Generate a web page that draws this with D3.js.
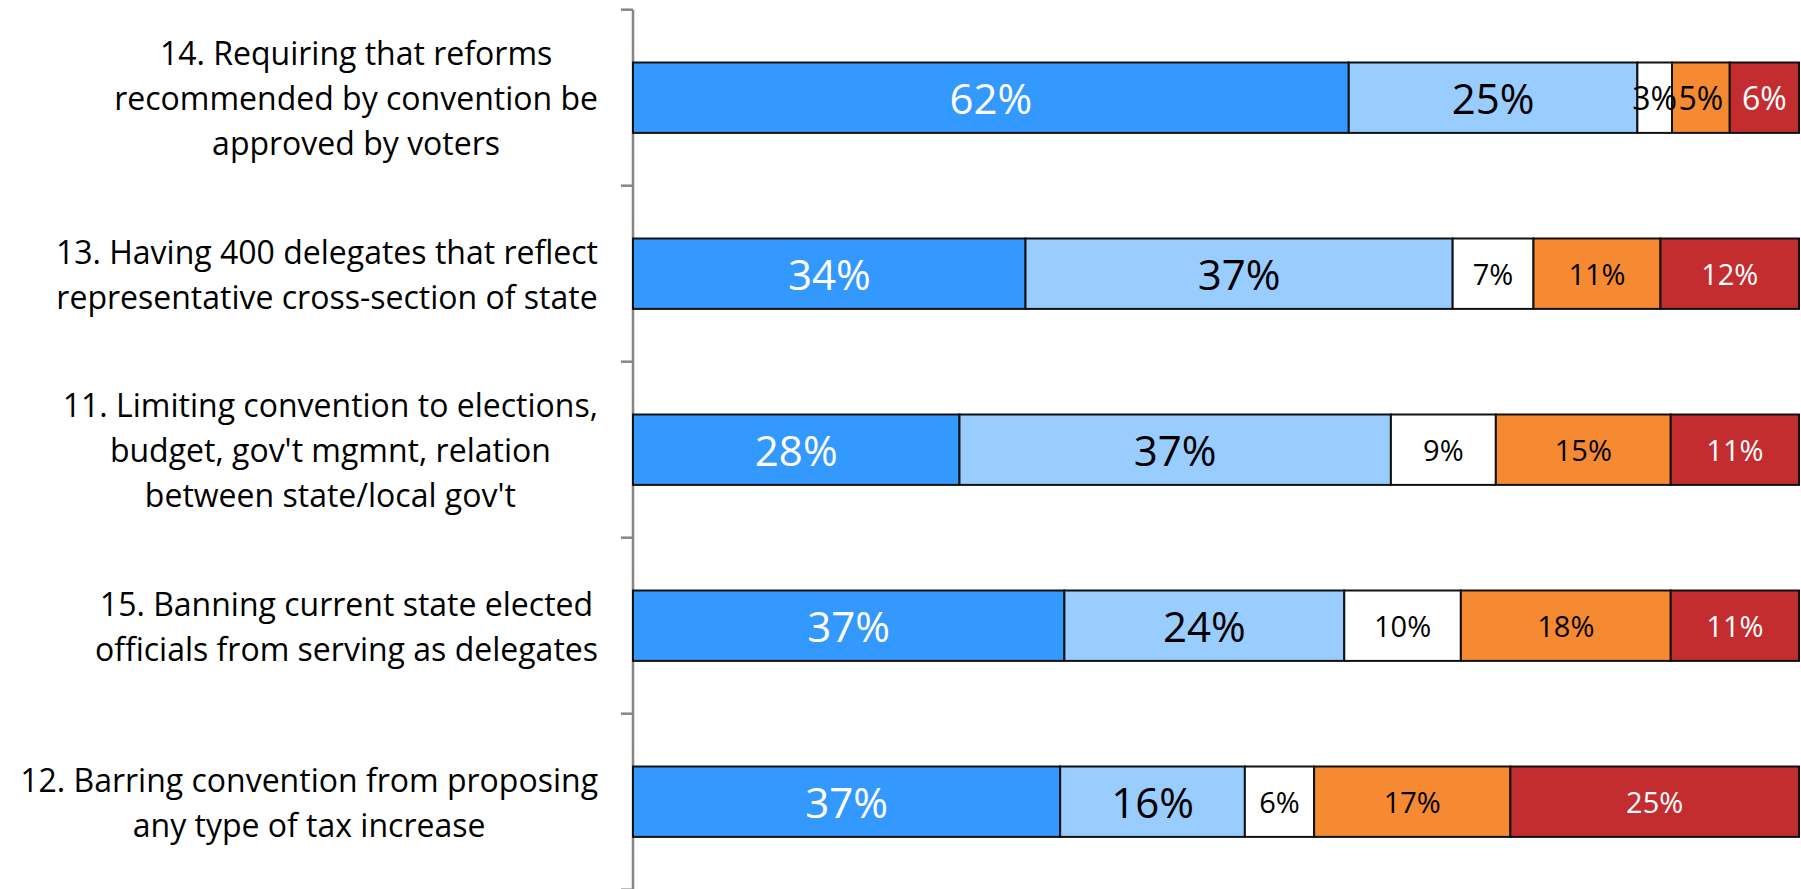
<!DOCTYPE html>
<html><head><meta charset="utf-8">
<script src="https://cdn.jsdelivr.net/npm/d3@7"></script>
<style>body{margin:0;background:#fff;}svg{display:block;}</style>
</head><body>
<svg id="chart" width="1801" height="889"></svg>
<script>
const categories = [
  "14. Requiring that reforms\nrecommended by convention be\napproved by voters",
  "13. Having 400 delegates that reflect\nrepresentative cross-section of state",
  "11. Limiting convention to elections,\nbudget, gov't mgmnt, relation\nbetween state/local gov't",
  "15. Banning current state elected\nofficials from serving as delegates",
  "12. Barring convention from proposing\nany type of tax increase"
];
const seriesKeys = ["s1", "s2", "s3", "s4", "s5"];
const s1 = [62, 34, 28, 37, 37];
const s2 = [25, 37, 37, 24, 16];
const s3 = [3, 7, 9, 10, 6];
const s4 = [5, 11, 15, 18, 17];
const s5 = [6, 12, 11, 11, 25];
const colors = ["#3399FF", "#99CCFF", "#FFFFFF", "#F58A33", "#C42D2F"];
const labelColors = ["#fff", "#000", "#000", "#000", "#fff"];

const rows = categories.map((c, i) => ({cat: c, s1: s1[i], s2: s2[i], s3: s3[i], s4: s4[i], s5: s5[i]}));
const stacked = d3.stack().keys(seriesKeys).offset(d3.stackOffsetExpand)(rows);

const svg = d3.select("#chart");
const x = d3.scaleLinear().domain([0, 1]).range([633, 1799]);
const y = d3.scaleBand().domain(categories).range([9.7, 889.7]).paddingInner(0.6).paddingOuter(0.3);

// axis
const axis = d3.axisLeft(y).tickSize(0).tickFormat("");
const ag = svg.append("g").attr("transform", "translate(633,0)").call(axis);
ag.select(".domain").attr("stroke", "#868686").attr("stroke-width", 2.5).attr("d", "M0," + y.range()[0] + "V" + y.range()[1]);
// tick marks between categories
const step = y.step();
const bounds = d3.range(categories.length + 1).map(i => y.range()[0] + i * step);
svg.append("g").selectAll("line").data(bounds).join("line")
  .attr("x1", 621).attr("x2", 633).attr("y1", d => d).attr("y2", d => d)
  .attr("stroke", "#868686").attr("stroke-width", 2.5);

// bars
const groups = svg.append("g").selectAll("g").data(stacked).join("g")
  .attr("fill", (d, i) => colors[i]);
groups.selectAll("rect").data(d => d.map(p => ({p, key: d.key}))).join("rect")
  .attr("x", d => x(d.p[0]))
  .attr("width", d => x(d.p[1]) - x(d.p[0]))
  .attr("y", d => y(d.p.data.cat))
  .attr("height", y.bandwidth())
  .attr("stroke", "#111").attr("stroke-width", 2);

// value labels
const rawVals = [s1, s2, s3, s4, s5];
function labelSize(si, ri) {
  if (si < 2) return 42;
  if (ri === 0) return 32;
  return 29;
}
stacked.forEach((layer, si) => {
  svg.append("g").selectAll("text").data(layer).join("text")
    .attr("x", d => (x(d[0]) + x(d[1])) / 2)
    .attr("y", d => y(d.data.cat) + y.bandwidth() / 2)
    .attr("text-anchor", "middle")
    .attr("dominant-baseline", "central")
    .attr("font-family", "Open Sans, sans-serif")
    .attr("font-size", (d, ri) => labelSize(si, ri))
    .attr("fill", labelColors[si])
    .text((d, ri) => rawVals[si][ri] + "%");
});

// category labels: block right-aligned at 598, lines centered within block
const lineH = 45;
const rightEdge = 598;
categories.forEach(c => {
  const lines = c.split("\n");
  const g = svg.append("g");
  const cy = y(c) + y.bandwidth() / 2;
  const texts = g.selectAll("text").data(lines).join("text")
    .attr("font-family", "Open Sans, sans-serif")
    .attr("font-size", 32)
    .attr("fill", "#000")
    .attr("text-anchor", "middle")
    .attr("dominant-baseline", "central")
    .attr("y", (d, i) => cy + (i - (lines.length - 1) / 2) * lineH)
    .text(d => d);
  let maxW = 0;
  texts.each(function() { maxW = Math.max(maxW, this.getComputedTextLength()); });
  texts.attr("x", rightEdge - maxW / 2);
});
</script>
</body></html>
